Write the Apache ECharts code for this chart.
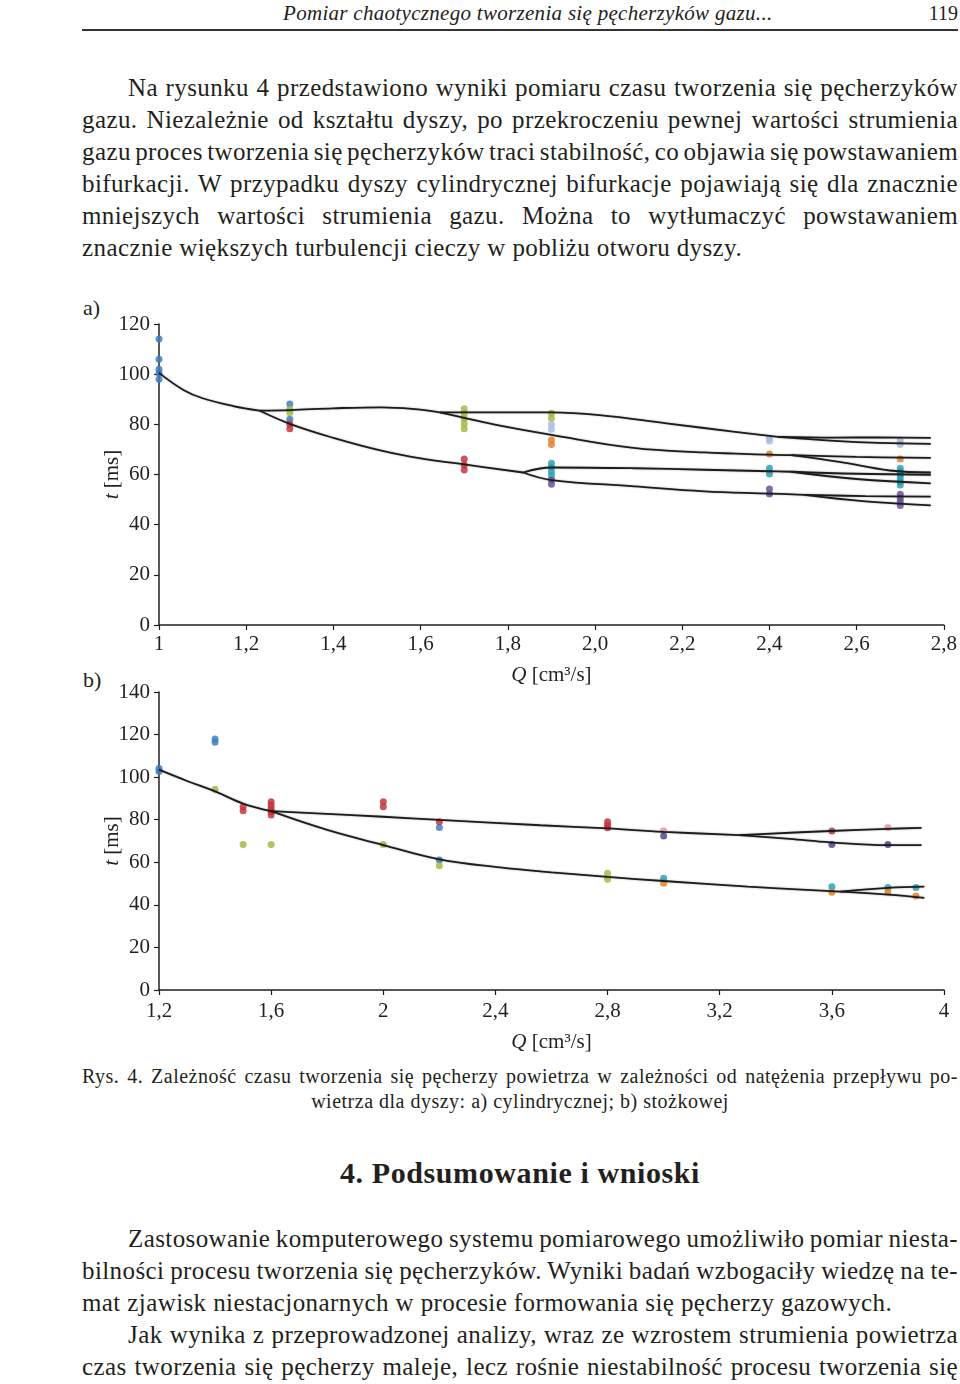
<!DOCTYPE html>
<html><head><meta charset="utf-8">
<script src="https://cdn.jsdelivr.net/npm/echarts@6/dist/echarts.min.js"></script>
<style>
body{margin:0;width:960px;height:1384px;position:relative;background:#fff;font-family:"Liberation Serif",serif;color:#231f20;overflow:hidden}
.t{position:absolute;white-space:nowrap}
.j{position:absolute;left:82px;width:876px;text-align:justify;text-align-last:justify;font-size:25px;letter-spacing:0.4px;word-spacing:-3.5px;line-height:32px;height:32px;white-space:nowrap}
.j.ind{left:128px;width:830px}
.j.last{text-align-last:left;word-spacing:0}
.cap{font-size:20px;letter-spacing:0.5px;word-spacing:-1px;line-height:26px;height:26px}
#chart{position:absolute;left:0;top:0;width:960px;height:1384px}
</style></head>
<body>
<div class="t" style="left:283px;top:0;font-size:21px;letter-spacing:0.3px;line-height:26px;font-style:italic">Pomiar chaotycznego tworzenia się pęcherzyków gazu...</div>
<div class="t" style="right:2px;top:0;font-size:20px;line-height:26px">119</div>
<div style="position:absolute;left:82px;top:29px;width:876px;height:2px;background:#333"></div>

<div class="j ind" style="top:72px">Na rysunku 4 przedstawiono wyniki pomiaru czasu tworzenia się pęcherzyków</div>
<div class="j" style="top:104px">gazu. Niezależnie od kształtu dyszy, po przekroczeniu pewnej wartości strumienia</div>
<div class="j" style="top:136px">gazu proces tworzenia się pęcherzyków traci stabilność, co objawia się powstawaniem</div>
<div class="j" style="top:168px">bifurkacji. W przypadku dyszy cylindrycznej bifurkacje pojawiają się dla znacznie</div>
<div class="j" style="top:200px">mniejszych wartości strumienia gazu. Można to wytłumaczyć powstawaniem</div>
<div class="j last" style="top:232px">znacznie większych turbulencji cieczy w pobliżu otworu dyszy.</div>

<div class="t" style="left:83px;top:295px;font-size:22px;line-height:26px">a)</div>
<div class="t" style="left:83px;top:667px;font-size:22px;line-height:26px">b)</div>

<div class="j cap" style="top:1063px">Rys. 4. Zależność czasu tworzenia się pęcherzy powietrza w zależności od natężenia przepływu po-</div>
<div class="t cap" style="left:0;width:1040px;text-align:center;top:1088px;word-spacing:0">wietrza dla dyszy: a) cylindrycznej; b) stożkowej</div>

<div class="t" style="left:0;width:1040px;text-align:center;top:1155px;font-size:30px;letter-spacing:0.6px;line-height:36px;font-weight:bold">4. Podsumowanie i wnioski</div>

<div class="j ind" style="top:1223px">Zastosowanie komputerowego systemu pomiarowego umożliwiło pomiar niesta-</div>
<div class="j" style="top:1255px">bilności procesu tworzenia się pęcherzyków. Wyniki badań wzbogaciły wiedzę na te-</div>
<div class="j last" style="top:1287px">mat zjawisk niestacjonarnych w procesie formowania się pęcherzy gazowych.</div>
<div class="j ind" style="top:1319px">Jak wynika z przeprowadzonej analizy, wraz ze wzrostem strumienia powietrza</div>
<div class="j" style="top:1351px">czas tworzenia się pęcherzy maleje, lecz rośnie niestabilność procesu tworzenia się</div>

<div id="chart"></div>
<script>
// ---------- chart a) data ----------
const aXTicks = ['1','1,2','1,4','1,6','1,8','2,0','2,2','2,4','2,6','2,8'];
const aBlue = [[1.0,114],[1.0,105.9],[1.0,102],[1.0,100.4],[1.0,98],[1.3,88.1],[1.3,82]];
const aGreen = [[1.3,86],[1.3,84.6],[1.7,86.2],[1.7,84.2],[1.7,82.2],[1.7,80.2],[1.7,78.2],[1.9,84.4],[1.9,82.4]];
const aRed = [[1.3,80],[1.3,78.2],[1.7,66.2],[1.7,63.8],[1.7,61.8]];
const aLightBlue = [[1.9,80],[1.9,78],[2.4,74.4],[2.4,73.4],[2.7,73.8],[2.7,72]];
const aOrange = [[1.9,73.8],[1.9,72],[2.4,68.2],[2.7,66.2]];
const aTeal = [[1.9,64.5],[1.9,62.9],[1.9,61.1],[1.9,59.5],[2.4,62.5],[2.4,60.2],[2.7,62.5],[2.7,61.1],[2.7,59.8],[2.7,58.5],[2.7,57.1],[2.7,55.8]];
const aPurple = [[1.9,57.8],[1.9,56.1],[2.4,54.2],[2.4,52.2],[2.7,52.1],[2.7,50.5],[2.7,49.2],[2.7,47.6]];

const aTrunk = [[1.0,100.5],[1.056,93.7],[1.10,90.4],[1.17,87.3],[1.23,85.5]];
const aUpper1 = [[1.23,85.5],[1.30,85.7],[1.40,86.4],[1.51,86.8],[1.58,86.2],[1.644,84.8]];
const aLower1 = [[1.23,85.5],[1.30,80.2],[1.40,74.6],[1.51,69.5],[1.60,66.4],[1.70,64.0],[1.835,60.8]];
const aFlat2 = [[1.644,84.8],[1.80,84.8],[1.90,84.8],[2.01,83.7],[2.164,80.4],[2.317,77.1],[2.42,75.0]];
const aDown2 = [[1.644,84.8],[1.705,82.4],[1.782,79.5],[1.90,75.8],[2.088,70.6],[2.25,68.8],[2.40,67.9],[2.45,67.7]];
const aTopA = [[2.42,75.0],[2.55,74.7],[2.65,74.8],[2.77,74.6]];
const aTopB = [[2.42,75.0],[2.55,73.4],[2.65,72.6],[2.77,72.2]];
const aMidA = [[2.45,67.7],[2.60,67.0],[2.77,66.6]];
const aMidB = [[2.45,67.7],[2.56,65.0],[2.676,61.6],[2.77,60.8]];
const aUpC = [[1.835,60.8],[1.90,62.8],[2.09,62.5],[2.25,61.9],[2.40,61.3],[2.45,61.1]];
const aUpCA = [[2.45,61.1],[2.60,60.3],[2.77,59.9]];
const aUpCB = [[2.45,61.1],[2.60,58.2],[2.77,56.5]];
const aLowD = [[1.835,60.8],[1.90,57.8],[2.09,55.3],[2.25,53.3],[2.40,52.4],[2.48,51.9]];
const aLowDA = [[2.48,51.9],[2.62,51.4],[2.77,51.2]];
const aLowDB = [[2.48,51.9],[2.62,49.3],[2.77,47.7]];

// ---------- chart b) data ----------
const bXTicks = ['1,2','1,6','2','2,4','2,8','3,2','3,6','4'];
const bBlue = [[1.2,104.1],[1.2,102.6],[1.4,117.9],[1.4,116.4],[2.2,76.4],[2.2,61.1]];
const bGreen = [[1.4,94.3],[1.5,68.4],[1.6,68.4],[2.0,68.4],[2.2,58.4],[2.8,54.8],[2.8,52.0]];
const bRed = [[1.5,86.1],[1.5,84.2],[1.6,88.4],[1.6,86.9],[1.6,85.4],[1.6,83.8],[1.6,82.2],[2.0,88.4],[2.0,86.1],[2.2,79.1],[2.8,79.1],[2.8,77.5],[2.8,76.2],[3.6,74.7]];
const bPink = [[3.0,74.8],[3.8,76.4]];
const bPurple = [[3.0,72.3],[3.6,68.4],[3.8,68.4]];
const bTeal = [[3.0,52.5],[3.6,48.5],[3.8,48.2],[3.9,48.2]];
const bOrange = [[3.0,50.1],[3.6,45.9],[3.8,46.2],[3.9,44.2]];

const bTrunk = [[1.2,103.5],[1.30,98.2],[1.40,93.3],[1.50,87.6],[1.60,84.0]];
const bUpper = [[1.60,84.0],[2.0,81.4],[2.2,79.9],[2.56,77.4],[2.8,75.9],[3.0,74.3],[3.27,72.8]];
const bUpA = [[3.27,72.8],[3.595,74.7],[3.80,75.7],[3.92,76.2]];
const bUpB = [[3.27,72.8],[3.45,71.0],[3.595,69.4],[3.80,68.1],[3.92,68.1]];
const bLower = [[1.60,84.0],[1.80,75.2],[2.0,68.1],[2.2,61.4],[2.416,57.6],[2.6,55.3],[2.8,53.1],[3.0,51.2],[3.3,48.6],[3.63,46.2]];
const bLowA = [[3.63,46.2],[3.80,48.0],[3.93,48.6]];
const bLowB = [[3.63,46.2],[3.80,44.8],[3.93,43.3]];

const FONT = '"Liberation Serif", serif';
const INK = '#231f20';
const COLORS = {blue:'#3d7fc0', green:'#a3bb45', red:'#c8353f', lightblue:'#a7bde0', orange:'#e8832c', teal:'#2aa3b7', purple:'#6b559a', pink:'#e69aa2', dpurple:'#57468a'};

function scat(data, color, idx){
  return {type:'scatter', xAxisIndex:idx, yAxisIndex:idx, data, symbol:'circle', symbolSize:7,
    itemStyle:{color, opacity:0.85}, z:2, silent:true};
}
function ln(data, idx){
  return {type:'line', xAxisIndex:idx, yAxisIndex:idx, data, smooth:0.4, showSymbol:false, symbol:'none',
    lineStyle:{color:'#1c1c1c', width:1.8, shadowColor:'rgba(0,0,0,0.35)', shadowBlur:2}, z:3, silent:true};
}
function xAx(idx, min, max, interval, ticks, nameGap, margin){
  return {type:'value', gridIndex:idx, min, max, interval,
    name:'{i|Q} [cm³/s]', nameLocation:'middle', nameGap,
    nameTextStyle:{fontFamily:FONT, fontSize:21, color:INK, rich:{i:{fontFamily:FONT, fontSize:21, fontStyle:'italic', color:INK}}},
    axisLine:{show:true, onZero:false, lineStyle:{color:INK, width:1.5}},
    axisTick:{show:true, length:5, lineStyle:{color:INK, width:1.2}},
    axisLabel:{fontFamily:FONT, fontSize:21, color:INK, margin,
      formatter:(v)=>ticks[Math.round((v-min)/interval)] || ''},
    splitLine:{show:false}};
}
function yAx(idx, max){
  return {type:'value', gridIndex:idx, min:0, max, interval:20,
    name:'{i|t} [ms]', nameLocation:'middle', nameGap:36, nameRotate:90, nameMoveOverlap:false,
    nameTextStyle:{fontFamily:FONT, fontSize:21, color:INK, rich:{i:{fontFamily:FONT, fontSize:21, fontStyle:'italic', color:INK}}},
    axisLine:{show:true, lineStyle:{color:INK, width:1.5}},
    axisTick:{show:true, length:5, lineStyle:{color:INK, width:1.2}},
    axisLabel:{fontFamily:FONT, fontSize:21, color:INK, margin:9},
    splitLine:{show:false}};
}

const chart = echarts.init(document.getElementById('chart'), null, {renderer:'canvas'});
chart.setOption({
  animation:false,
  backgroundColor:'transparent',
  grid:[
    {left:159, top:324, width:785, height:301},
    {left:159, top:692, width:785, height:298}
  ],
  xAxis:[xAx(0,1,2.8,0.2,aXTicks,40,9), xAx(1,1.2,4,0.4,bXTicks,42,11)],
  yAxis:[yAx(0,120), yAx(1,140)],
  series:[
    scat(aBlue,COLORS.blue,0), scat(aGreen,COLORS.green,0), scat(aRed,COLORS.red,0),
    scat(aLightBlue,COLORS.lightblue,0), scat(aOrange,COLORS.orange,0), scat(aTeal,COLORS.teal,0), scat(aPurple,COLORS.purple,0),
    ln(aTrunk,0), ln(aUpper1,0), ln(aLower1,0), ln(aFlat2,0), ln(aDown2,0), ln(aTopA,0), ln(aTopB,0),
    ln(aMidA,0), ln(aMidB,0), ln(aUpC,0), ln(aUpCA,0), ln(aUpCB,0), ln(aLowD,0), ln(aLowDA,0), ln(aLowDB,0),
    scat(bBlue,COLORS.blue,1), scat(bGreen,COLORS.green,1), scat(bRed,COLORS.red,1), scat(bPink,COLORS.pink,1),
    scat(bPurple,COLORS.dpurple,1), scat(bTeal,COLORS.teal,1), scat(bOrange,COLORS.orange,1),
    ln(bTrunk,1), ln(bUpper,1), ln(bUpA,1), ln(bUpB,1), ln(bLower,1), ln(bLowA,1), ln(bLowB,1)
  ]
});
</script>
</body></html>
